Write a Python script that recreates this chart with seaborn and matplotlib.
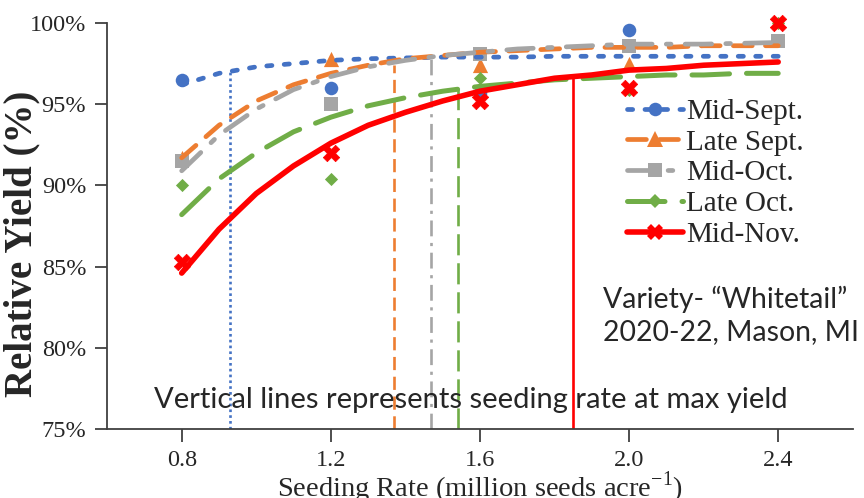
import numpy as np
import pandas as pd
import matplotlib
matplotlib.use("Agg")
import matplotlib.pyplot as plt
from matplotlib.lines import Line2D
import seaborn as sns

# --- datos ---
series = ["Mid-Sept.", "Late Sept.", "Mid-Oct.", "Late Oct.", "Mid-Nov."]
colors = ["#4472C4", "#ED7D31", "#A5A5A5", "#70AD47", "#FF0000"]

# puntos observados
obs_x = [0.8, 1.2, 1.6, 2.0, 2.4]
obs_mid_sept = [96.5, 96.0, 95.7, 99.6, np.nan]
obs_late_sept = [91.7, 97.8, 97.4, 97.5, np.nan]
obs_mid_oct = [91.5, 95.0, 98.1, 98.6, 98.9]
obs_late_oct = [90.0, 90.4, 96.6, 95.9, 100.0]
obs_mid_nov = [85.3, 92.0, 95.2, 96.0, 100.0]

# curvas ajustadas (leidas cada 0.1)
fit_x = [0.8, 0.9, 1.0, 1.1, 1.2, 1.3, 1.4, 1.5, 1.6, 1.7, 1.8, 1.9, 2.0, 2.1, 2.2, 2.3, 2.4]
fit_mid_sept = [96.2, 96.9, 97.3, 97.5, 97.7, 97.8, 97.85, 97.9, 97.9, 97.9, 97.95, 97.95, 97.95, 97.95, 97.95, 97.95, 97.95]
fit_late_sept = [91.7, 93.7, 95.2, 96.2, 96.9, 97.4, 97.8, 98.0, 98.2, 98.3, 98.4, 98.5, 98.5, 98.5, 98.6, 98.6, 98.6]
fit_mid_oct = [90.9, 93.1, 94.7, 95.9, 96.7, 97.3, 97.7, 98.0, 98.2, 98.4, 98.5, 98.6, 98.7, 98.7, 98.7, 98.75, 98.8]
fit_late_oct = [88.2, 90.4, 92.0, 93.3, 94.2, 94.9, 95.4, 95.8, 96.1, 96.3, 96.5, 96.6, 96.7, 96.8, 96.8, 96.9, 96.9]
fit_mid_nov = [84.6, 87.3, 89.5, 91.2, 92.6, 93.7, 94.5, 95.2, 95.8, 96.2, 96.6, 96.8, 97.1, 97.2, 97.4, 97.5, 97.6]

# lineas verticales: tasa de siembra al maximo rendimiento
vline_x = [0.93, 1.37, 1.47, 1.54, 1.85]
vline_top = [97.0, 97.4, 97.9, 96.0, 96.8]

obs = [obs_mid_sept, obs_late_sept, obs_mid_oct, obs_late_oct, obs_mid_nov]
fits = [fit_mid_sept, fit_late_sept, fit_mid_oct, fit_late_oct, fit_mid_nov]

# estilos
markers = ["o", "^", "s", "D", "X"]
msizes = [95, 120, 95, 45, 140]
curve_dashes = [(1.1, 2.6), (4.0, 2.8), (5.6, 3.0, 1.0, 3.0), (7.5, 3.4), None]
curve_lw = [3.4, 3.4, 3.4, 3.6, 4.0]
vline_dashes = [(1.0, 1.2), (5.0, 2.5), (6.0, 2.5, 1.2, 2.5), (8.0, 3.0), None]

df_fit = pd.DataFrame({"x": fit_x * 5,
                       "y": sum(fits, []),
                       "serie": np.repeat(series, len(fit_x))})
df_obs = pd.DataFrame({"x": obs_x * 5,
                       "y": sum(obs, []),
                       "serie": np.repeat(series, len(obs_x))})

sns.set_style("ticks")
plt.rcParams["font.family"] = ["Liberation Serif", "DejaVu Serif"]

fig = plt.figure(figsize=(8.64, 4.98), dpi=100)
ax = fig.add_axes([0.124, 0.1386, 0.863, 0.8152])

# puntos
for i, s in enumerate(series):
    d = df_obs[df_obs["serie"] == s].dropna()
    sns.scatterplot(data=d, x="x", y="y", ax=ax, color=colors[i], marker=markers[i],
                    s=msizes[i], linewidth=0 if markers[i] != "X" else 0.5,
                    edgecolor=colors[i], zorder=2, legend=False, clip_on=False)

# lineas verticales
for i, s in enumerate(series):
    ax.plot([vline_x[i], vline_x[i]], [75, vline_top[i]], color=colors[i], lw=1.9,
            linestyle="-" if vline_dashes[i] is None else (0, vline_dashes[i]), zorder=1.5)

# curvas de ajuste
for i, s in enumerate(series):
    d = df_fit[df_fit["serie"] == s]
    sns.lineplot(data=d, x="x", y="y", ax=ax, color=colors[i], lw=curve_lw[i],
                 legend=False, zorder=3)
    line = ax.lines[-1]
    line.set_solid_capstyle("round")
    if curve_dashes[i] is not None:
        line.set_dashes(curve_dashes[i])
        line.set_dash_capstyle("round")

ax.set_xlim(0.6, 2.6)
ax.set_ylim(75, 100)
ax.set_xticks([0.8, 1.2, 1.6, 2.0, 2.4])
ax.set_xticklabels(["0.8", "1.2", "1.6", "2.0", "2.4"])
ax.set_yticks([75, 80, 85, 90, 95, 100])
ax.set_yticklabels([f"{v}%" for v in [75, 80, 85, 90, 95, 100]])
ax.tick_params(axis="both", labelsize=17.5, length=9, width=1.3, color="#404040", pad=6)
for sp in ["left", "bottom"]:
    ax.spines[sp].set_color("#404040")
    ax.spines[sp].set_linewidth(1.3)
sns.despine(ax=ax)

ax.set_xlabel("Seeding Rate (million seeds acre$^{\\mathregular{-1}}$)", fontsize=20.5, labelpad=-1)
ax.set_ylabel("Relative Yield (%)", fontsize=28, fontweight="bold")
ax.yaxis.set_label_coords(-0.09, 0.457)

# leyenda
handles = []
for i, s in enumerate(series):
    ls = "-" if curve_dashes[i] is None else (0, curve_dashes[i])
    h = Line2D([], [], color=colors[i], lw=curve_lw[i], linestyle=ls,
               marker=markers[i], markersize=np.sqrt(msizes[i]), markeredgewidth=0,
               dash_capstyle="round")
    handles.append(h)
leg = ax.legend(handles, series, loc="upper left", bbox_to_anchor=(0.678, 0.85),
                frameon=False, fontsize=21, handlelength=1.9, handletextpad=0.12,
                labelspacing=0.15, borderpad=0, numpoints=1)

# anotaciones
ax.text(0.725, 76.8, "Vertical lines represents seeding rate at max yield",
        family=["Lato", "DejaVu Sans"], fontsize=21, va="center", ha="left")
ax.text(1.93, 82.0, "Variety- \u201cWhitetail\u201d\n2020-22, Mason, MI",
        family=["Lato", "DejaVu Sans"], fontsize=20.4, va="center", ha="left", linespacing=1.27)

fig.savefig("out.png", dpi=100)
